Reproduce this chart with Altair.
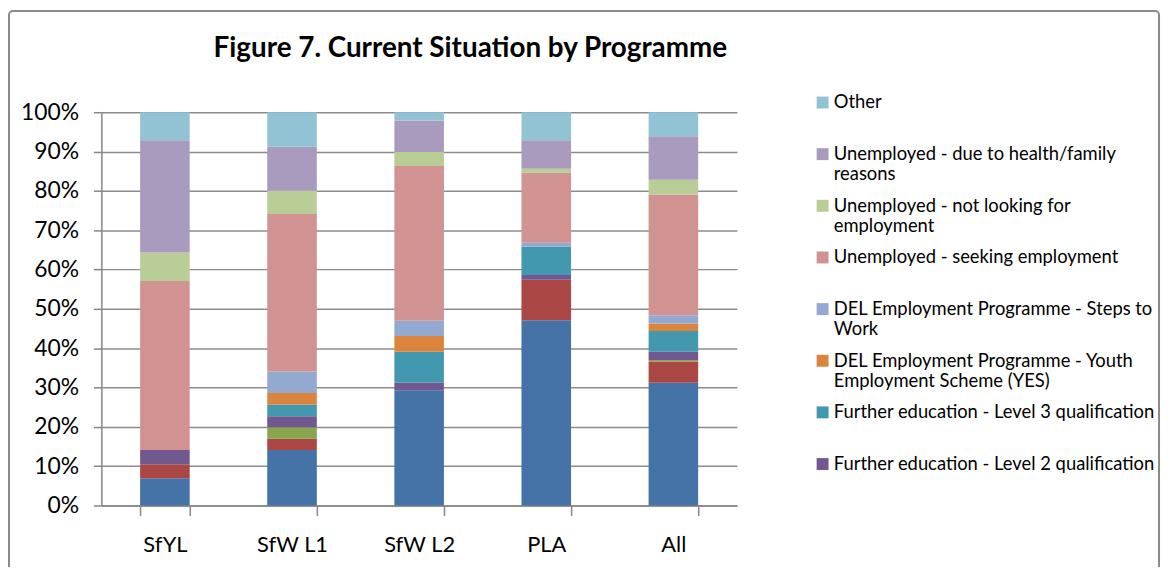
import altair as alt
import pandas as pd

programmes = ["SfYL", "SfW L1", "SfW L2", "PLA", "All"]

series = [
    "Employment",
    "Apprenticeship",
    "Further education - Level 1 qualification",
    "Further education - Level 2 qualification",
    "Further education - Level 3 qualification",
    "DEL Employment Programme - Youth Employment Scheme (YES)",
    "DEL Employment Programme - Steps to Work",
    "Unemployed - seeking employment",
    "Unemployed - not looking for employment",
    "Unemployed - due to health/family reasons",
    "Other",
]

employment = [6.9, 14.1, 29.3, 47.1, 31.2]
apprenticeship = [3.6, 2.9, 0.0, 10.3, 5.4]
fe_level1 = [0.0, 2.9, 0.0, 0.0, 0.4]
fe_level2 = [3.6, 2.8, 1.9, 1.2, 2.1]
fe_level3 = [0.0, 3.0, 7.9, 7.2, 5.3]
yes_scheme = [0.0, 2.9, 4.0, 0.0, 1.9]
steps_to_work = [0.0, 5.5, 3.9, 1.0, 2.1]
unemp_seeking = [43.0, 40.0, 39.3, 17.8, 30.7]
unemp_not_looking = [7.2, 5.9, 3.6, 1.0, 3.7]
unemp_health = [28.6, 11.3, 8.0, 7.3, 11.1]
other = [7.1, 8.7, 2.1, 7.1, 6.1]

series_values = [employment, apprenticeship, fe_level1, fe_level2, fe_level3,
                 yes_scheme, steps_to_work, unemp_seeking, unemp_not_looking,
                 unemp_health, other]

colors = ["#4572A7", "#AA4643", "#89A54E", "#71588F", "#4198AF", "#DB843D",
          "#93A9CF", "#D19392", "#B9CD96", "#A99BBD", "#92C3D4"]

legend_items = [
    "Other",
    "Unemployed - due to health/family reasons",
    "Unemployed - not looking for employment",
    "Unemployed - seeking employment",
    "DEL Employment Programme - Steps to Work",
    "DEL Employment Programme - Youth Employment Scheme (YES)",
    "Further education - Level 3 qualification",
    "Further education - Level 2 qualification",
]

wrapped = {
    "Unemployed - due to health/family reasons": ["Unemployed - due to health/family", "reasons"],
    "Unemployed - not looking for employment": ["Unemployed - not looking for", "employment"],
    "DEL Employment Programme - Steps to Work": ["DEL Employment Programme - Steps to", "Work"],
    "DEL Employment Programme - Youth Employment Scheme (YES)": ["DEL Employment Programme - Youth", "Employment Scheme (YES)"],
}

rows = []
for si, (name, vals) in enumerate(zip(series, series_values)):
    for prog, v in zip(programmes, vals):
        rows.append({"programme": prog, "series": name, "value": v, "order": si})
df = pd.DataFrame(rows)

expr = "[datum.label, '']"
for k, (a, b) in wrapped.items():
    expr = f"datum.label == '{k}' ? ['{a}', '{b}'] : " + expr

W, H = 640, 396
FONT = "Lato"

bars = alt.Chart(df).mark_bar(strokeWidth=0).encode(
    x=alt.X("programme:N", sort=programmes, title=None,
            scale=alt.Scale(paddingInner=0.61, paddingOuter=0.305),
            axis=alt.Axis(tickBand="extent", labelAngle=0, labelFont=FONT,
                          labelFontSize=22, labelColor="#000000", labelPadding=19,
                          tickSize=10, tickColor="#868686", tickWidth=1.5,
                          domainColor="#868686", domainWidth=1.5, grid=False)),
    y=alt.Y("value:Q", stack="zero", title=None,
            scale=alt.Scale(domain=[0, 100], nice=False),
            axis=alt.Axis(values=list(range(0, 101, 10)), labelExpr="datum.value + '%'",
                          labelFont=FONT, labelFontSize=23, labelColor="#000000",
                          labelPadding=15, tickSize=8, tickColor="#868686", tickWidth=1.5,
                          domainColor="#868686", domainWidth=1.5,
                          grid=True, gridColor="#8c8c8c", gridWidth=1.5)),
    color=alt.Color("series:N", scale=alt.Scale(domain=series, range=colors),
                    legend=alt.Legend(values=legend_items, title=None, orient="none",
                                      legendX=717, legendY=-19, padding=0,
                                      symbolType="square", symbolSize=144,
                                      symbolStrokeWidth=0, symbolOpacity=1,
                                      labelFont=FONT, labelFontSize=18.5,
                                      labelBaseline="middle",
                                      labelColor="#000000", labelOffset=2,
                                      labelLimit=420, rowPadding=12,
                                      labelExpr=expr)),
    order=alt.Order("order:Q", sort="ascending"),
)

frame = alt.Chart(pd.DataFrame({"f": [0]})).mark_rect(
    fill=None, stroke="#898989", strokeWidth=2, cornerRadius=4
).encode(
    x=alt.value(-93), x2=alt.value(W + 425),
    y=alt.value(-102), y2=alt.value(H + 90),
)

chart = alt.layer(bars, frame).properties(
    width=W, height=H,
    title=alt.TitleParams("Figure 7. Current Situation by Programme", font=FONT,
                          fontSize=28, fontWeight="bold", color="#000000",
                          anchor="start", frame="group", dx=113, dy=53, offset=0),
    autosize=alt.AutoSizeParams(type="none"),
    padding={"left": 94, "top": 103, "right": 429, "bottom": 60},
    background="white",
).configure_view(stroke=None)

chart.save("out.html", embed_options={"renderer": "svg", "actions": False})
